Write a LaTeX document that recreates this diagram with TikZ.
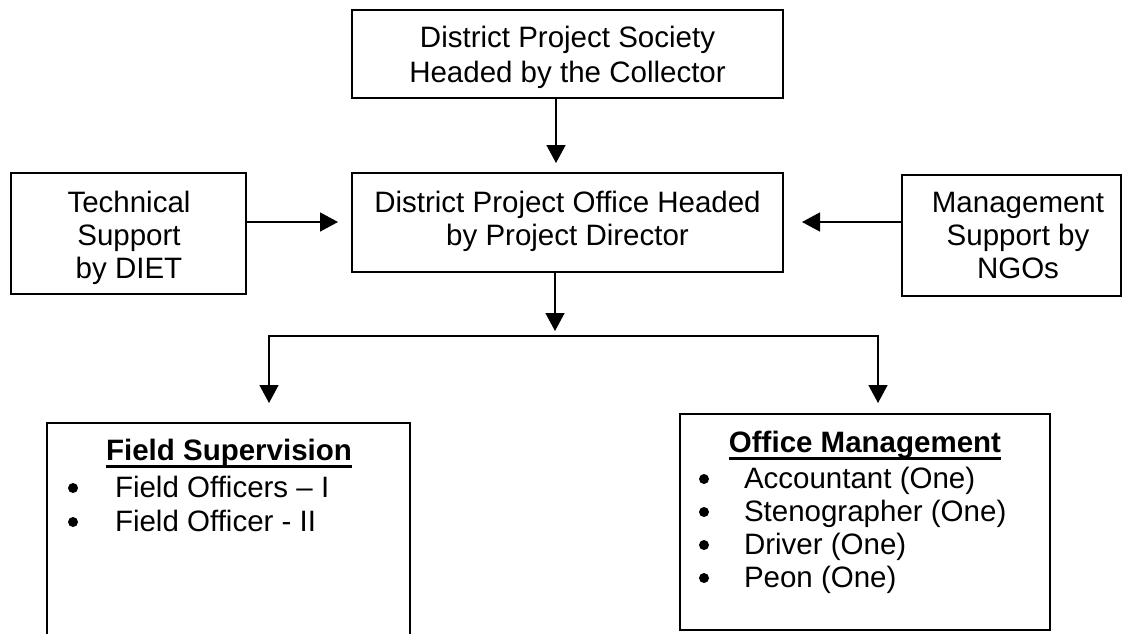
\documentclass[tikz,border=0pt]{standalone}
\usepackage{fontspec}
\setmainfont{Liberation Sans}
\usetikzlibrary{arrows.meta}
\begin{document}
\begin{tikzpicture}[x=1pt,y=-1pt,
  box/.style={draw=black, line width=1.5pt, inner sep=0pt, outer sep=0pt},
  txt/.style={inner sep=0pt, outer sep=0pt, anchor=base, font=\fontsize{29.5}{34}\selectfont},
  itm/.style={txt, anchor=base west},
  hdr/.style={txt, font=\fontsize{29.5}{34}\selectfont\bfseries},
  dot/.style={circle, fill=black, inner sep=0pt, minimum size=10pt},
  conn/.style={draw=black, line width=1.5pt},
  arr/.style={conn, -{Triangle[length=18pt, width=19pt]}},
  uline/.style={draw=black, line width=2.5pt}]
\useasboundingbox (0,0) rectangle (1123,633);
\clip (0,0) rectangle (1123,633);
% boxes
\node[box, minimum width=431pt, minimum height=88pt] (top) at (567.5,54) {};
\node[box, minimum width=431pt, minimum height=99pt] (mid) at (567.5,222.5) {};
\node[box, minimum width=235pt, minimum height=121pt] (left) at (128.5,233.5) {};
\node[box, minimum width=219pt, minimum height=121pt] (right) at (1011.5,235.5) {};
\node[box, minimum width=363pt, minimum height=237pt] (field) at (228.5,541.5) {};
\node[box, minimum width=370pt, minimum height=216pt] (office) at (865,522) {};
% texts
\node[txt] (t1) at (567.5,47.5) {District Project Society};
\node[txt] (t2) at (567.5,82.5) {Headed by the Collector};
\node[txt] (m1) at (567.5,212) {District Project Office Headed};
\node[txt] (m2) at (567.5,245) {by Project Director};
\node[txt] (l1) at (129,212) {Technical};
\node[txt] (l2) at (129,245) {Support};
\node[txt] (l3) at (129,278) {by DIET};
\node[txt] (r1) at (1018,212) {Management};
\node[txt] (r2) at (1018,245) {Support by};
\node[txt] (r3) at (1018,278) {NGOs};
% field supervision
\node[hdr] (fh) at (229,460) {Field Supervision};
\draw[uline] ([yshift=-6.5pt]fh.base west) -- ([yshift=-6.5pt]fh.base east);
\node[dot] (fb1) at (73,488) {};
\node[itm] (fi1) at (115,497) {Field Officers – I};
\node[dot] (fb2) at (73,522) {};
\node[itm] (fi2) at (115,531) {Field Officer - II};
% office management
\node[hdr] (oh) at (865,452) {Office Management};
\draw[uline] ([yshift=-6.5pt]oh.base west) -- ([yshift=-6.5pt]oh.base east);
\node[dot] (ob1) at (704,479) {};
\node[itm] (oi1) at (744,488) {Accountant (One)};
\node[dot] (ob2) at (704,512) {};
\node[itm] (oi2) at (744,521) {Stenographer (One)};
\node[dot] (ob3) at (704,545) {};
\node[itm] (oi3) at (744,554) {Driver (One)};
\node[dot] (ob4) at (704,578) {};
\node[itm] (oi4) at (744,587) {Peon (One)};
% connectors
\coordinate (ax) at (556,0);
\coordinate (ly) at (0,222);
\coordinate (jn) at (555,336);
\coordinate (jl) at (269,336);
\coordinate (jr) at (878,336);
\draw[arr, shorten >=10pt] (top.south -| ax) -- (mid.north -| ax);
\draw[arr, shorten >=14pt] (left.east |- ly) -- (mid.west |- ly);
\draw[arr, shorten >=19pt] (right.west |- ly) -- (mid.east |- ly);
\draw[arr, shorten >=5pt] (mid.south -| jn) -- (jn);
\draw[conn, line cap=rect] (jl) -- (jr);
\draw[arr, shorten >=20pt] (jl) -- (field.north -| jl);
\draw[arr, shorten >=11pt] (jr) -- (office.north -| jr);
\end{tikzpicture}
\end{document}
